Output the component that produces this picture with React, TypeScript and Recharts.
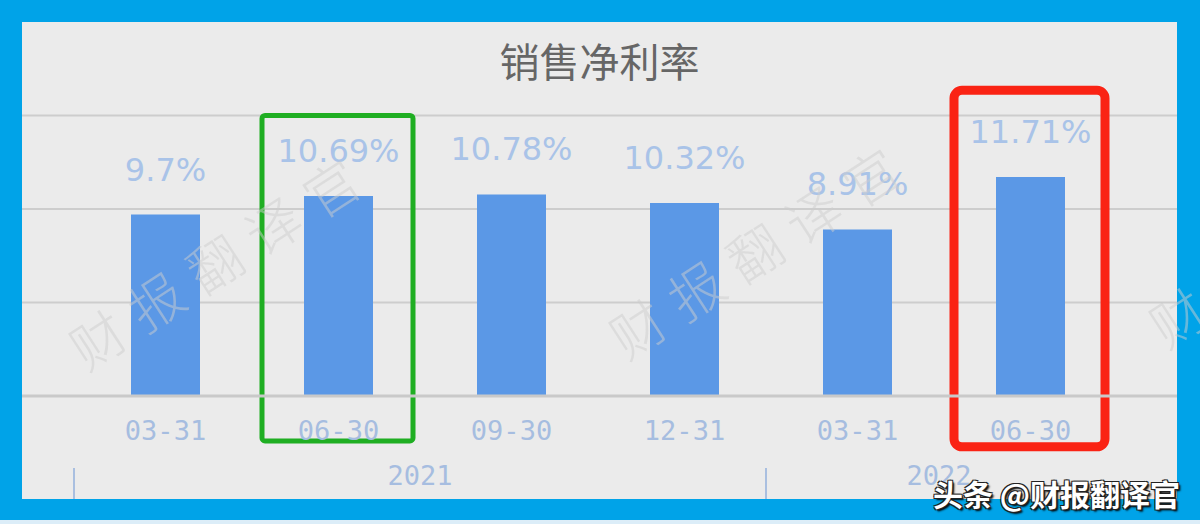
import React from "react"
import {
  BarChart, Bar, XAxis, YAxis, CartesianGrid, LabelList, ReferenceArea
} from "recharts"

// 报告期（年-月-日）
const periods = ["2021-03-31", "2021-06-30", "2021-09-30", "2021-12-31", "2022-03-31", "2022-06-30"]
// 销售净利率 (%)
const netMargins = [9.7, 10.69, 10.78, 10.32, 8.91, 11.71]
const yTicks = [0, 5, 10, 15]

// 标注框：绿色 / 红色
const boxKeys = ["2021-06-30", "2022-06-30"]
const boxTop = [15, 16.35]
const boxBottom = [-2.4, -2.72]

const rows = periods.map((key, i) => ({
  key,
  year: key.slice(0, 4),
  md: key.slice(5),
  value: netMargins[i],
}))

const tickColor = "#a6bde0"
const monoFont = "'DejaVu Sans Mono', monospace"

function YearTick(props: any) {
  const { x, y, payload } = props
  const i = props.index ?? payload.index
  const row = rows[i]
  if (!row || (i > 0 && rows[i - 1].year === row.year)) return <g />
  const half = payload.offset ?? 0
  const count = rows.filter(r => r.year === row.year).length
  const start = x - half - 5
  return (
    <g>
      <line x1={start} x2={start} y1={y + 22} y2={y + 53} stroke="#a9bfe0" strokeWidth={2} />
      <text x={start + count * half} y={y + 39} textAnchor="middle"
        fill={tickColor} fontSize={27} fontFamily={monoFont}>
        {row.year}
      </text>
    </g>
  )
}

function Box({ x, y, width, height, color, sw, r }: any) {
  return (
    <rect x={x + 10} y={y} width={width - 22} height={height}
      fill="none" stroke={color} strokeWidth={sw} rx={r} ry={r} />
  )
}

const watermarks = [
  { left: 220, top: 258 },
  { left: 760, top: 247 },
  { left: 1300, top: 236 },
]

export default function App() {
  return (
    <div style={{ position: "relative", width: 1200, height: 524, background: "#00a3e8", overflow: "hidden" }}>
      <style>{`body{margin:0}`}</style>
      <div style={{ position: "absolute", left: 0, top: 520, width: 1200, height: 4, background: "#dcedf8" }} />
      <div style={{ position: "absolute", left: 22, top: 22, width: 1155, height: 477, background: "#ebebeb" }}>
        <div style={{
          position: "absolute", left: 0, top: 15, width: 1155, height: 46, lineHeight: "46px",
          textAlign: "center", fontSize: 40, color: "#666666",
          fontFamily: "'Noto Sans CJK SC', sans-serif",
        }}>
          销售净利率
        </div>
        <BarChart width={1155} height={477} data={rows}
          margin={{ top: 93.5, right: 0, bottom: 0, left: 0 }}>
          <CartesianGrid vertical={false} stroke="#cdcdcd" strokeWidth={2} />
          <YAxis hide domain={[0, 15]} ticks={yTicks} />
          <XAxis
            dataKey="key"
            height={50}
            interval={0}
            padding={{ left: 57, right: 60 }}
            tickFormatter={(v: string) => v.slice(5)}
            tick={{ fill: tickColor, fontSize: 27, fontFamily: monoFont }}
            tickLine={false}
            tickSize={0}
            tickMargin={25}
            axisLine={{ stroke: "#c9c9c9", strokeWidth: 3 }}
          />
          <XAxis
            xAxisId="year"
            dataKey="key"
            height={53}
            interval={0}
            padding={{ left: 57, right: 60 }}
            tick={<YearTick />}
            tickLine={false}
            tickSize={0}
            tickMargin={0}
            axisLine={false}
          />
          <Bar dataKey="value" fill="#5b98e6" barSize={69} isAnimationActive={false}>
            <LabelList
              dataKey="value"
              position="top"
              offset={34}
              formatter={(v: any) => `${v}%`}
              fill="#a9c3e8"
              fontSize={32}
              fontFamily="'DejaVu Sans', sans-serif"
            />
          </Bar>
          <ReferenceArea x1={boxKeys[0]} x2={boxKeys[0]} y1={boxBottom[0]} y2={boxTop[0]}
            ifOverflow="visible"
            shape={(p: any) => <Box {...p} color="#1fae22" sw={5} r={3} />} />
          <ReferenceArea x1={boxKeys[1]} x2={boxKeys[1]} y1={boxBottom[1]} y2={boxTop[1]}
            ifOverflow="visible"
            shape={(p: any) => <Box {...p} color="#fa2314" sw={9} r={8} />} />
        </BarChart>
      </div>
      {watermarks.map((w, i) => (
        <div key={i} style={{
          position: "absolute", left: w.left, top: w.top, width: 0, height: 0,
          pointerEvents: "none",
        }}>
          <div style={{
            position: "absolute", left: -200, top: -35, width: 400, height: 70,
            lineHeight: "70px", textAlign: "center", whiteSpace: "nowrap",
            transform: "rotate(-33deg)", fontSize: 54, letterSpacing: 15.5,
            color: "rgba(205,205,205,0.5)", fontWeight: 300,
            fontFamily: "'Noto Sans CJK SC', sans-serif",
          }}>
            财报翻译官
          </div>
        </div>
      ))}
      <div style={{
        position: "absolute", left: 933, top: 474, height: 38, lineHeight: "38px",
        fontSize: 30, fontWeight: 700, color: "#ffffff", whiteSpace: "nowrap",
        fontFamily: "'Noto Sans CJK SC', sans-serif",
        textShadow: "1px 1px 0 #222, -1px -1px 0 #222, 1px -1px 0 #222, -1px 1px 0 #222, 2px 2px 2px #000",
      }}>
        头条 @财报翻译官
      </div>
    </div>
  )
}
